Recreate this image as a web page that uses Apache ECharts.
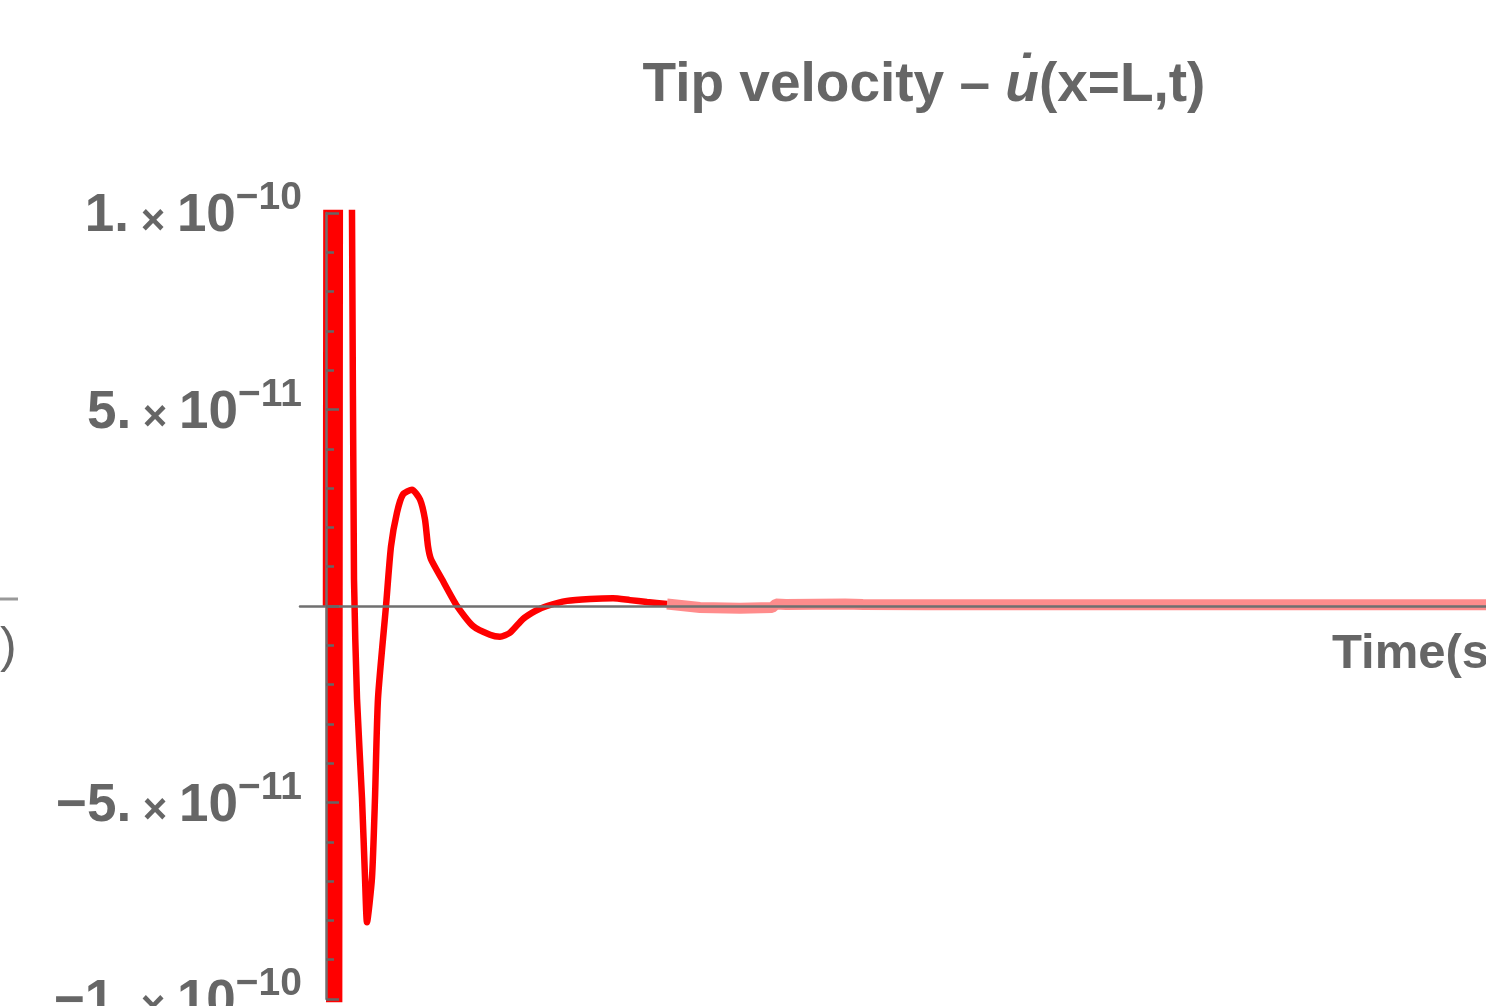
<!DOCTYPE html>
<html><head><meta charset="utf-8">
<script src="https://cdn.jsdelivr.net/npm/echarts@6/dist/echarts.min.js"></script>
<style>html,body{margin:0;padding:0;background:#fff;overflow:hidden}#c{width:1486px;height:1006px}</style>
</head><body><div id="c"></div>
<script>
// time (arbitrary units), tip velocity in units of 1e-11
const timeMain = [0, 0.02, 0.04, 0.06, 0.08, 0.10, 0.12, 0.16, 0.26, 0.28, 0.31, 0.36, 0.39, 0.41, 0.46, 0.49, 0.52, 0.60, 0.65, 0.71, 0.77, 0.86, 0.94, 0.99, 1.02, 1.05, 1.16, 1.31, 1.47, 1.64, 1.74, 1.84, 1.97, 2.09, 2.21, 2.41, 2.64, 2.87, 3.04, 3.21, 3.41];
const velMain  = [0, 40, -40, 40, -40, 40, -40, 40, 10, 0.68, -2.35, -4.89, -6.91, -8.05, -6.91, -4.89, -2.35, 0, 1.52, 2.38, 2.84, 2.96, 2.71, 2.2, 1.52, 1.19, 0.68, 0, -0.51, -0.73, -0.78, -0.68, -0.33, -0.13, 0, 0.13, 0.18, 0.2, 0.15, 0.1, 0.05];
const timeTail = [3.41, 3.74, 4.14, 4.46, 4.50, 4.60, 5.19, 5.37, 6.0, 8.0, 12.0];
const velTail  = [0.05, -0.04, -0.06, -0.04, 0.05, 0.04, 0.05, 0.04, 0.03, 0.03, 0.03];
const yTickValues = [-10, -5, 5, 10];
const yTickMantissa = ['\u22121.', '\u22125.', '5.', '1.'];
const yTickExponent = ['\u221210', '\u221211', '\u221211', '\u221210'];
const titleParts = ['Tip velocity \u2013 ', 'u\u0307', '(x=L,t)'];
const xAxisName = 'Time(s)';

const FONT = '"Liberation Sans", Arial, sans-serif';
const GRAY = '#666666';
const chart = echarts.init(document.getElementById('c'), null, {renderer: 'canvas'});

const mainData = timeMain.map((t, i) => [t, velMain[i]]);
const tailData = timeTail.map((t, i) => [t, velTail[i]]);

chart.setOption({
  animation: false,
  backgroundColor: '#ffffff',
  grid: {left: 300, top: 213, width: 1226, height: 786, containLabel: false, outerBoundsMode: 'none'},
  xAxis: {
    type: 'value', min: -0.26, max: 12, z: 5,
    axisLine: {onZero: true, lineStyle: {color: '#707070', width: 2.5}},
    axisTick: {show: false}, axisLabel: {show: false}, splitLine: {show: false}
  },
  yAxis: {
    type: 'value', min: -10, max: 10, interval: 5, z: 5,
    axisLine: {onZero: true, lineStyle: {color: '#707070', width: 2.5}},
    axisTick: {show: true, inside: true, length: 13, lineStyle: {color: GRAY, width: 2.5}},
    minorTick: {show: true, splitNumber: 5, length: 8, lineStyle: {color: GRAY, width: 2.5}},
    splitLine: {show: false},
    axisLabel: {
      margin: -2,
      formatter: function (v) {
        const i = yTickValues.indexOf(v);
        if (i < 0) return '';
        return '{m|' + yTickMantissa[i] + '}{x| \u00d7 }{m|10}{s|' + yTickExponent[i] + '}';
      },
      rich: {
        m: {fontFamily: FONT, fontWeight: 'bold', fontSize: 53, color: GRAY, lineHeight: 60, verticalAlign: 'bottom'},
        x: {fontFamily: FONT, fontWeight: 'bold', fontSize: 42, color: GRAY, lineHeight: 56, verticalAlign: 'bottom'},
        s: {fontFamily: FONT, fontWeight: 'bold', fontSize: 39, color: GRAY, lineHeight: 44, verticalAlign: 'bottom', padding: [0, 0, 25, 0]}
      }
    }
  },
  graphic: [
    {type: 'text', x: 924, y: 86, z: 10, style: {
      text: '{a|' + titleParts[0] + '}{i|' + titleParts[1] + '}{a|' + titleParts[2] + '}',
      align: 'center', verticalAlign: 'middle',
      rich: {
        a: {fontFamily: FONT, fontWeight: 'bold', fontSize: 55, fill: GRAY},
        i: {fontFamily: FONT, fontWeight: 'bold', fontStyle: 'italic', fontSize: 55, fill: GRAY}
      }
    }},
    {type: 'text', x: 1332, y: 654, z: 10, style: {
      text: xAxisName, fill: GRAY, font: 'bold 49px ' + FONT, align: 'left', verticalAlign: 'middle'
    }},
    {type: 'text', x: 0, y: 648, z: 10, style: {
      text: ')', fill: GRAY, font: '50px ' + FONT, align: 'left', verticalAlign: 'middle'
    }},
    {type: 'line', z: 10, shape: {x1: 0, y1: 599, x2: 18, y2: 599}, style: {stroke: '#999999', lineWidth: 3}}
  ],
  series: [
    {type: 'line', data: tailData, showSymbol: false, clip: true, z: 2,
     lineStyle: {color: 'rgba(255,0,0,0.45)', width: 11}},
    {type: 'line', data: mainData, showSymbol: false, clip: true, z: 3, smooth: 0.2,
     lineStyle: {color: '#ff0000', width: 6.5}}
  ]
});
</script></body></html>
